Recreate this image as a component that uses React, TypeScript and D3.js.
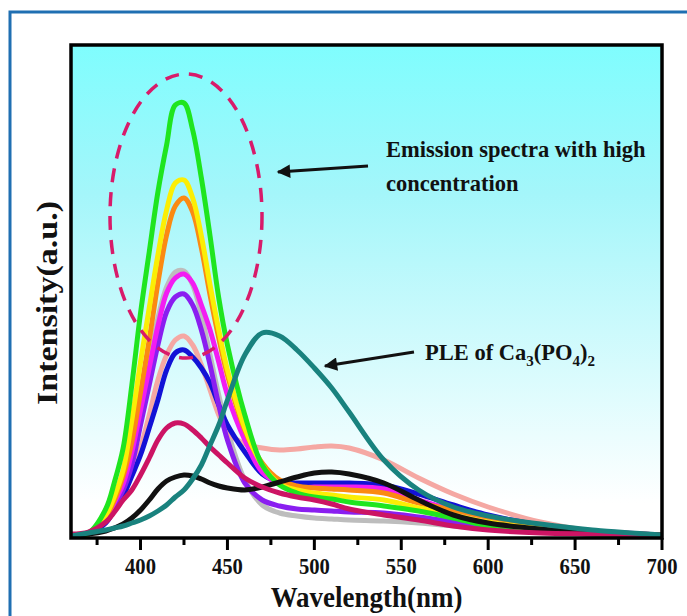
import React from "react";
import * as d3 from "d3";

// Wavelength grid (nm) shared by every spectrum
const wavelengths = [360, 370, 380, 385, 390, 395, 400, 405, 410, 415, 420, 425, 430, 435, 440, 445, 450, 460, 470, 480, 490, 500, 510, 520, 540, 560, 580, 600, 630, 660, 700];

// Emission spectra (a.u.)
const greenSpec = [6, 10, 58, 112, 180, 306, 450, 572, 692, 786, 866, 870, 816, 720, 604, 480, 386, 246, 146, 106, 90, 82, 78, 72, 64, 54, 40, 24, 14, 8, 6];
const yellowSpec = [6, 8, 46, 84, 136, 236, 352, 460, 566, 656, 710, 716, 680, 604, 506, 416, 336, 220, 146, 108, 96, 90, 86, 82, 76, 60, 46, 32, 18, 10, 6];
const orangeSpec = [6, 8, 42, 76, 124, 192, 292, 396, 510, 606, 664, 680, 652, 580, 486, 400, 326, 216, 150, 116, 104, 100, 98, 96, 90, 70, 56, 42, 26, 14, 6];
const graySpec = [6, 10, 46, 80, 116, 186, 276, 356, 440, 502, 532, 534, 506, 446, 366, 286, 216, 116, 66, 50, 44, 40, 38, 36, 34, 30, 24, 18, 12, 8, 6];
const magentaSpec = [6, 8, 40, 72, 108, 172, 256, 340, 424, 490, 520, 528, 510, 466, 416, 352, 286, 196, 132, 108, 100, 102, 102, 102, 98, 76, 56, 40, 24, 14, 6];
const purpleSpec = [6, 8, 36, 64, 96, 146, 226, 306, 386, 452, 482, 488, 466, 416, 346, 266, 196, 110, 76, 64, 58, 56, 54, 52, 50, 42, 32, 22, 14, 8, 6];
const pinkSpec = [6, 8, 32, 56, 86, 128, 180, 246, 316, 366, 396, 404, 386, 346, 296, 246, 212, 188, 180, 176, 178, 182, 184, 180, 156, 120, 88, 62, 32, 14, 6];
const blueSpec = [6, 8, 30, 56, 84, 124, 166, 220, 276, 336, 370, 376, 362, 340, 310, 266, 226, 172, 128, 112, 110, 110, 110, 110, 106, 88, 66, 46, 26, 14, 6];
const crimsonSpec = [8, 12, 32, 52, 76, 96, 126, 160, 196, 220, 230, 228, 216, 200, 182, 166, 150, 120, 102, 90, 82, 76, 68, 58, 46, 36, 24, 16, 10, 8, 6];
const blackSpec = [6, 8, 14, 20, 28, 40, 56, 76, 98, 114, 122, 126, 124, 118, 110, 104, 100, 96, 102, 112, 122, 130, 132, 128, 110, 76, 46, 30, 18, 10, 6];
// Excitation (PLE) spectrum of Ca3(PO4)2
const pleSpec = [4, 10, 16, 20, 24, 30, 36, 44, 54, 66, 82, 96, 118, 146, 186, 226, 276, 366, 410, 404, 376, 340, 300, 252, 156, 96, 62, 44, 28, 16, 6];

// Drawing order (later = on top) and colours
const seriesValues = [graySpec, pinkSpec, blueSpec, purpleSpec, magentaSpec, orangeSpec, yellowSpec, greenSpec, blackSpec, crimsonSpec, pleSpec];
const seriesColors = ["#bdbdbd", "#f5a8a3", "#1212d6", "#8a1ef0", "#f21df2", "#fb8a12", "#fbee05", "#1fe51f", "#111111", "#cc1464", "#19827e"];

const xMajorTicks = [400, 450, 500, 550, 600, 650, 700];
const xMinorTicks = [375, 425, 475, 525, 575, 625, 675];

const W = 687;
const H = 616;
const left = 71;
const right = 662;
const top = 45;
const bottom = 538;

const FONT = "'Liberation Serif', 'Times New Roman', serif";

export default function App() {
  const x = d3.scaleLinear().domain([360, 700]).range([left, right]);
  const y = d3.scaleLinear().domain([0, 986]).range([bottom, top]);

  const line = d3
    .line<number>()
    .x((_, i) => x(wavelengths[i]))
    .y((v) => y(v))
    .curve(d3.curveCatmullRom.alpha(0.5));

  return (
    <svg
      width={W}
      height={H}
      style={{ position: "absolute", left: 0, top: 0, background: "#fff" }}
      fontFamily={FONT}
    >
      <defs>
        <linearGradient id="bg" x1="0" y1="0" x2="0" y2="1">
          <stop offset="0" stopColor="#7ffdfe" />
          <stop offset="0.3" stopColor="#a4f6fa" />
          <stop offset="0.93" stopColor="#ffffff" />
        </linearGradient>
        <clipPath id="plotClip">
          <rect x={left} y={top} width={right - left} height={bottom - top} />
        </clipPath>
        <marker id="head" viewBox="0 0 10 10" refX="9" refY="5" markerWidth="5.5" markerHeight="4.5" orient="auto" markerUnits="strokeWidth">
          <path d="M0,0 L10,5 L0,10 z" fill="#111" />
        </marker>
      </defs>

      {/* outer frame */}
      <rect x={10} y={12} width={W + 20} height={H + 20} fill="none" stroke="#1f6fb2" strokeWidth={3} />

      {/* plot background */}
      <rect x={left} y={top} width={right - left} height={bottom - top} fill="url(#bg)" />

      {/* spectra */}
      <g clipPath="url(#plotClip)" fill="none" strokeWidth={5} strokeLinejoin="round" strokeLinecap="round">
        {seriesValues.map((vals, i) => (
          <path key={i} d={line(vals) ?? ""} stroke={seriesColors[i]} />
        ))}
      </g>

      {/* highlighted region */}
      <ellipse cx={186} cy={216} rx={76} ry={142} fill="none" stroke="#d81b6a" strokeWidth={3.5} strokeDasharray="14 10" />

      {/* annotations */}
      <line x1={368} y1={166} x2={278} y2={172} stroke="#111" strokeWidth={3} markerEnd="url(#head)" />
      <text x={386} y={157} fontSize={22.5} fontWeight="bold" fill="#111">Emission spectra with high</text>
      <text x={386} y={191} fontSize={22.5} fontWeight="bold" fill="#111">concentration</text>

      <line x1={414} y1={352} x2={325} y2={366} stroke="#111" strokeWidth={3} markerEnd="url(#head)" />
      <text x={425} y={360} fontSize={22.5} fontWeight="bold" fill="#111">
        PLE of Ca
        <tspan fontSize={15} dy={6}>3</tspan>
        <tspan dy={-6}>(PO</tspan>
        <tspan fontSize={15} dy={6}>4</tspan>
        <tspan dy={-6}>)</tspan>
        <tspan fontSize={15} dy={6}>2</tspan>
      </text>

      {/* frame of the plot */}
      <rect x={left} y={top} width={right - left} height={bottom - top} fill="none" stroke="#000" strokeWidth={3.5} />

      {/* x ticks */}
      {xMajorTicks.map((t) => (
        <line key={"M" + t} x1={x(t)} x2={x(t)} y1={bottom} y2={bottom + 12} stroke="#000" strokeWidth={3} />
      ))}
      {xMinorTicks.map((t) => (
        <line key={"m" + t} x1={x(t)} x2={x(t)} y1={bottom} y2={bottom + 7} stroke="#000" strokeWidth={3} />
      ))}
      {xMajorTicks.map((t) => (
        <text
          key={"l" + t}
          transform={`translate(${x(t)}, 574) scale(0.86, 1)`}
          textAnchor="middle"
          fontSize={24}
          fontWeight="bold"
          fill="#111"
        >
          {t}
        </text>
      ))}

      {/* axis titles */}
      <text
        transform={`translate(${(left + right) / 2}, 607) scale(0.93, 1)`}
        textAnchor="middle"
        fontSize={29}
        fontWeight="bold"
        fill="#111"
      >
        Wavelength(nm)
      </text>
      <text
        transform={`translate(57, 303) rotate(-90) scale(1, 0.88)`}
        textAnchor="middle"
        fontSize={34}
        fontWeight="bold"
        fill="#111"
      >
        Intensity(a.u.)
      </text>
    </svg>
  );
}
